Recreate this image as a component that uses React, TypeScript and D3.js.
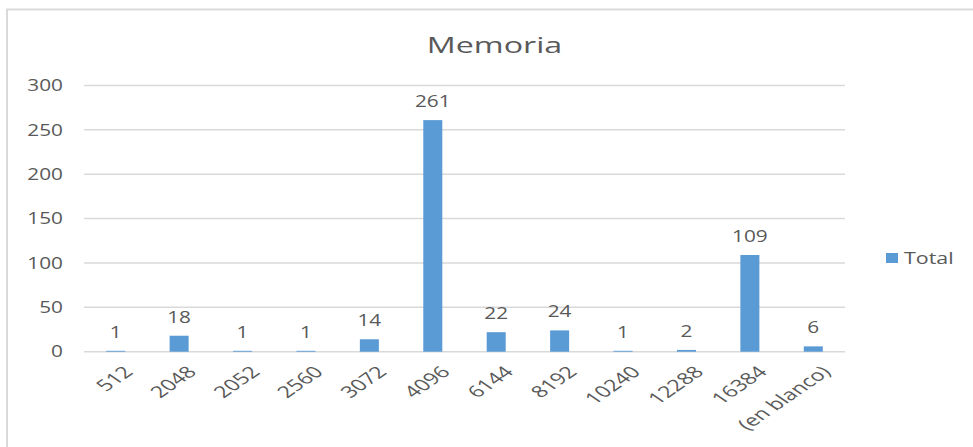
import React from "react";
import * as d3 from "d3";

const categories = ["512", "2048", "2052", "2560", "3072", "4096", "6144", "8192", "10240", "12288", "16384", "(en blanco)"];
const totals = [1, 18, 1, 1, 14, 261, 22, 24, 1, 2, 109, 6];
const yTicks = [0, 50, 100, 150, 200, 250, 300];
const title = "Memoria";
const seriesName = "Total";

const W = 973;
const H = 447;
const FONT = "'Open Sans', 'Segoe UI', sans-serif";
const TEXT = "#595959";
const GRID = "#D9D9D9";
const BAR = "#5B9BD5";
const SX = 1.3;

export default function App() {
  const x = d3.scaleBand<string>().domain(categories).range([84, 845]).paddingInner(0.7).paddingOuter(0.35);
  const y = d3.scaleLinear().domain([0, 300]).range([351.7, 85.5]);
  const bw = x.bandwidth();
  const cx = (c: string) => (x(c) as number) + bw / 2;

  return (
    <svg width={W} height={H} style={{ position: "absolute", left: 0, top: 0, background: "#fff" }} fontFamily={FONT}>
      <rect x={7} y={9.5} width={W + 10} height={H + 10} fill="#fff" stroke={GRID} strokeWidth={2} />
      <text transform={`translate(494.5,53.3) scale(1.5,1)`} textAnchor="middle" fontSize={21.5} fill={TEXT}>
        {title}
      </text>
      {yTicks.map((t) => (
        <g key={t}>
          <line x1={84} x2={845} y1={y(t)} y2={y(t)} stroke={GRID} strokeWidth={1.5} />
          <text transform={`translate(63,${y(t)}) scale(${SX},1)`} textAnchor="end" dy="0.36em" fontSize={16} fill={TEXT}>
            {t}
          </text>
        </g>
      ))}
      {categories.map((c, i) => (
        <g key={c}>
          <rect x={x(c)} y={y(totals[i])} width={bw} height={y(0) - y(totals[i])} fill={BAR} />
          <text transform={`translate(${cx(c)},${y(totals[i]) - 13}) scale(${SX},1)`} textAnchor="middle" fontSize={16} fill={TEXT}>
            {totals[i]}
          </text>
          <text
            transform={`translate(${cx(c) + 7},${365}) scale(1.45,1) rotate(-45)`}
            textAnchor="end"
            dy="0.7em"
            fontSize={16}
            fill={TEXT}
          >
            {c}
          </text>
        </g>
      ))}
      <rect x={886} y={253} width={12} height={10} fill={BAR} />
      <text transform={`translate(904,264) scale(${SX},1)`} fontSize={16.5} fill={TEXT}>
        {seriesName}
      </text>
    </svg>
  );
}
